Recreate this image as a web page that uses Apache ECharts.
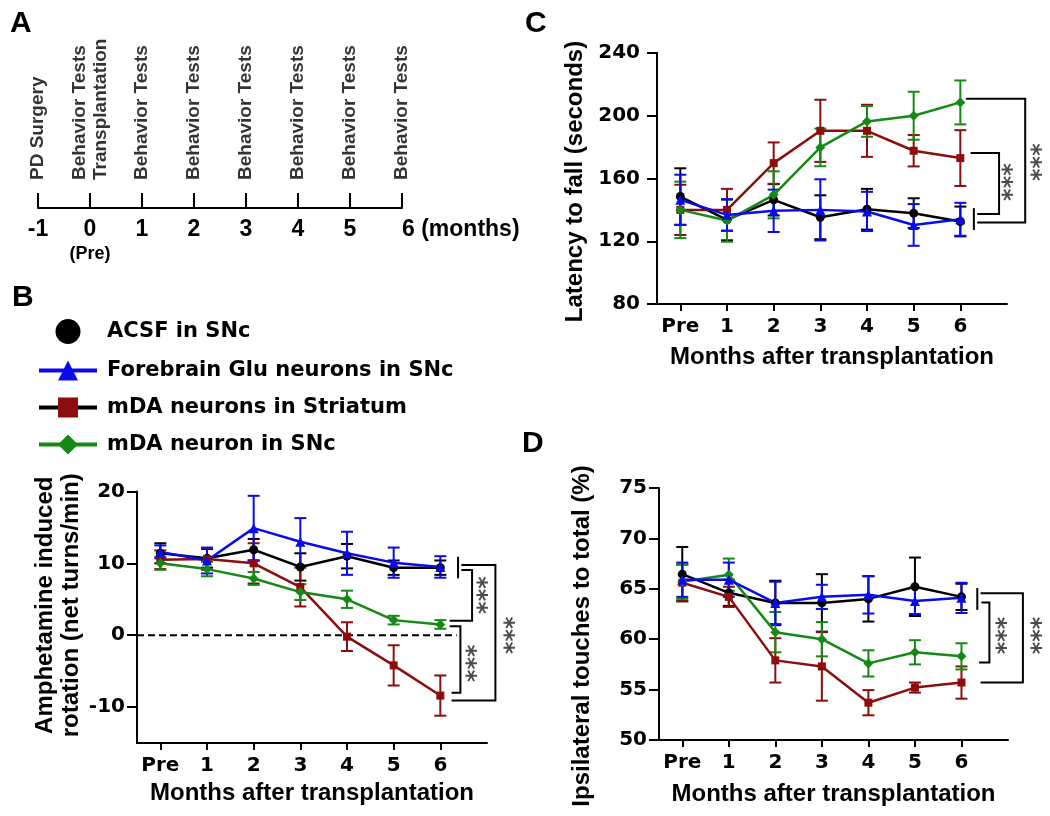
<!DOCTYPE html>
<html><head><meta charset="utf-8">
<script src="https://cdn.jsdelivr.net/npm/echarts@6/dist/echarts.min.js"></script>
<style>html,body{margin:0;padding:0;background:#fff}#c{width:1050px;height:816px}</style>
</head><body><div id="c"></div>
<script>
// ---------- DATA ----------
const months = ['Pre','1','2','3','4','5','6'];
const timelineMonths = [-1,0,1,2,3,4,5,6];
const timelineEvents = ['PD Surgery','Behavior Tests\nTransplantation','Behavior Tests','Behavior Tests','Behavior Tests','Behavior Tests','Behavior Tests','Behavior Tests'];
const groupNames = ['ACSF in SNc','Forebrain Glu neurons in SNc','mDA neurons in Striatum','mDA neuron in SNc'];

// B: amphetamine induced rotation (net turns/min)
const rotAcsf    = [11.4, 10.7, 11.9, 9.5, 11.0, 9.4, 9.4];
const rotAcsfSem = [1.4, 1.3, 1.5, 1.9, 1.7, 1.0, 1.0];
const rotGlu     = [11.6, 10.4, 14.9, 13.0, 11.4, 10.1, 9.5];
const rotGluSem  = [0.9, 1.8, 4.5, 3.3, 3.0, 2.1, 1.5];
const rotStr     = [10.5, 10.6, 10.0, 6.7, -0.2, -4.2, -8.4];
const rotStrSem  = [1.3, 1.5, 2.8, 2.7, 2.0, 2.8, 2.8];
const rotSnc     = [10.0, 9.2, 7.9, 6.0, 5.0, 2.1, 1.5];
const rotSncSem  = [0.9, 1.0, 0.9, 1.1, 1.2, 0.6, 0.6];
const rotTicks   = [-10, 0, 10, 20];

// C: latency to fall (seconds)
const latAcsf    = [148.5, 133.6, 146.4, 135.3, 140.4, 137.9, 132.6];
const latAcsfSem = [18, 13, 10, 14, 13, 9.5, 9.5];
const latGlu     = [146.4, 136.8, 139.4, 140.0, 139.0, 130.4, 134.0];
const latGluSem  = [16, 10, 13.5, 19.5, 12.5, 13.3, 10.5];
const latStr     = [140, 140, 169.8, 190.4, 190.4, 177.7, 173.0];
const latStrSem  = [16, 13.4, 13.2, 19.8, 16.6, 10, 17.8];
const latSnc     = [140, 133.2, 149.6, 179.8, 196.4, 200.0, 208.5];
const latSncSem  = [18, 13.5, 15, 12, 9.8, 15.3, 14];
const latTicks   = [80, 120, 160, 200, 240];

// D: ipsilateral touches to total (%)
const touAcsf    = [66.45, 64.6, 63.6, 63.6, 64.0, 65.2, 64.2];
const touAcsfSem = [2.7, 1.3, 2.2, 2.85, 2.25, 2.9, 1.3];
const touGlu     = [65.9, 65.9, 63.6, 64.2, 64.4, 63.8, 64.1];
const touGluSem  = [1.7, 1.7, 2.1, 1.2, 1.85, 1.3, 1.5];
const touStr     = [65.6, 64.2, 57.9, 57.3, 53.7, 55.2, 55.7];
const touStrSem  = [1.8, 1.0, 2.2, 3.4, 1.25, 0.5, 1.6];
const touSnc     = [65.7, 66.4, 60.7, 60.0, 57.6, 58.7, 58.3];
const touSncSem  = [1.7, 1.6, 2.0, 1.7, 1.3, 1.2, 1.3];
const touTicks   = [50, 55, 60, 65, 70, 75];

// ---------- ANNOTATIONS (significance brackets, in data space) ----------
const bracketsB = [
  [[6.38,10.92],[6.38,7.91]],
  [[6.45,9.07],[6.68,9.07],[6.68,2.0],[6.20,2.0]],
  [[6.45,9.76],[7.18,9.76],[7.18,-9.07],[6.24,-9.07]],
  [[6.20,1.26],[6.43,1.26],[6.43,-7.99],[6.24,-7.99]]
];
const starsB = [[6.77,5.58],[7.34,0],[6.53,-3.9]];
const bracketsC = [
  [[6.29,141.1],[6.29,127.2]],
  [[6.22,176.2],[6.83,176.2],[6.83,137.3],[6.36,137.3]],
  [[6.12,210.8],[7.39,210.8],[7.39,131.9],[6.36,131.9]]
];
const starsC = [[6.88,157.7],[7.49,170.4]];
const bracketsD = [
  [[6.34,65.07],[6.34,62.91]],
  [[6.43,63.64],[6.60,63.64],[6.60,57.68],[6.38,57.68]],
  [[6.41,64.57],[7.32,64.57],[7.32,55.70],[6.41,55.70]]
];
const starsD = [[6.72,60.36],[7.47,60.36]];

// ---------- STYLE ----------
const ARIAL = "'Liberation Sans', Arial, sans-serif";
const DEJA = "'DejaVu Sans', sans-serif";
const groupStyle = [
  {color:'#000000', symbol:'circle',   size:9},
  {color:'#0a0aee', symbol:'triangle', size:10},
  {color:'#8b0d0d', symbol:'rect',     size:8},
  {color:'#148a14', symbol:'diamond',  size:10}
];
const drawOrder = [0, 2, 3, 1];
const monthPos = months.map((m, i) => i);

const panels = [
  {axis:1, means:[rotAcsf, rotGlu, rotStr, rotSnc], sems:[rotAcsfSem, rotGluSem, rotStrSem, rotSncSem], brackets:bracketsB, stars:starsB},
  {axis:2, means:[latAcsf, latGlu, latStr, latSnc], sems:[latAcsfSem, latGluSem, latStrSem, latSncSem], brackets:bracketsC, stars:starsC},
  {axis:3, means:[touAcsf, touGlu, touStr, touSnc], sems:[touAcsfSem, touGluSem, touStrSem, touSncSem], brackets:bracketsD, stars:starsD}
];

function plotX(gridIndex, nameGap) {
  return {
    type:'value', gridIndex, min:-0.5, max:7,
    axisLine:{show:true, onZero:false, lineStyle:{color:'#000', width:2}},
    axisTick:{show:true, customValues:monthPos, length:7, lineStyle:{color:'#000', width:2}},
    axisLabel:{customValues:monthPos, formatter:v => months[v], margin:13, color:'#000',
      fontFamily:DEJA, fontWeight:'bold', fontSize:20},
    splitLine:{show:false},
    name:'Months after transplantation', nameLocation:'middle', nameGap,
    nameTextStyle:{color:'#000', fontFamily:ARIAL, fontWeight:'bold', fontSize:24}
  };
}
function plotY(gridIndex, min, max, ticks, name, nameGap, pad, margin) {
  return {
    type:'value', gridIndex, min, max,
    axisLine:{show:true, onZero:false, lineStyle:{color:'#000', width:2}},
    axisTick:{show:true, customValues:ticks, length:10, lineStyle:{color:'#000', width:2}},
    axisLabel:{customValues:ticks, margin, color:'#000', fontFamily:DEJA, fontWeight:'bold', fontSize:20},
    splitLine:{show:false},
    name, nameLocation:'middle', nameRotate:90, nameGap,
    nameTextStyle:{color:'#000', fontFamily:ARIAL, fontWeight:'bold', fontSize:24, lineHeight:26, padding:pad}
  };
}

function errRender(color) {
  return function (params, api) {
    const x = api.value(0), lo = api.value(1), hi = api.value(2);
    const a = api.coord([x, lo]), b = api.coord([x, hi]);
    const w = 6, st = {stroke:color, lineWidth:2};
    return {type:'group', children:[
      {type:'line', shape:{x1:a[0], y1:a[1], x2:b[0], y2:b[1]}, style:st},
      {type:'line', shape:{x1:b[0]-w, y1:b[1], x2:b[0]+w, y2:b[1]}, style:st},
      {type:'line', shape:{x1:a[0]-w, y1:a[1], x2:a[0]+w, y2:a[1]}, style:st}
    ]};
  };
}
function bracketSeries(axis, pts) {
  return {
    type:'custom', xAxisIndex:axis, yAxisIndex:axis, silent:true, z:4, clip:false,
    data:pts, encode:{x:0, y:1},
    renderItem:(params, api) => params.dataIndex === 0 ? {
      type:'polyline', shape:{points:pts.map(p => api.coord(p))},
      style:{stroke:'#000', lineWidth:2, fill:null}
    } : null
  };
}

const series = [];
// timeline event labels (panel A)
series.push({
  type:'scatter', xAxisIndex:0, yAxisIndex:0, symbolSize:0, silent:true, clip:false,
  data: timelineMonths.map(m => [m, 0]),
  label:{show:true, position:'top', distance:28, rotate:90, align:'left', verticalAlign:'middle',
    formatter:p => timelineEvents[p.dataIndex], color:'#000', fontFamily:ARIAL, fontWeight:'bold',
    fontSize:19, lineHeight:21}
});

panels.forEach(p => {
  drawOrder.forEach(g => {
    const st = groupStyle[g];
    series.push({
      type:'custom', name:groupNames[g] + ' SEM', xAxisIndex:p.axis, yAxisIndex:p.axis, z:2, silent:true,
      renderItem: errRender(st.color), encode:{x:0, y:[1,2]},
      data: months.map((m, i) => [i, p.means[g][i] - p.sems[g][i], p.means[g][i] + p.sems[g][i]])
    });
  });
  drawOrder.forEach(g => {
    const st = groupStyle[g];
    series.push({
      type:'line', name:groupNames[g], xAxisIndex:p.axis, yAxisIndex:p.axis, z:3,
      symbol:st.symbol, symbolSize:st.size, showSymbol:true,
      lineStyle:{color:st.color, width:2.5}, itemStyle:{color:st.color},
      data: months.map((m, i) => [i, p.means[g][i]])
    });
  });
  p.brackets.forEach(b => series.push(bracketSeries(p.axis, b)));
  series.push({
    type:'scatter', xAxisIndex:p.axis, yAxisIndex:p.axis, data:p.stars, symbolSize:0, clip:false, silent:true, z:4,
    label:{show:true, position:'inside', formatter:'***', rotate:-90, color:'#1e1e1e',
      fontFamily:DEJA, fontWeight:'bold', fontSize:24, align:'center', verticalAlign:'middle'}
  });
});
// zero reference line in B
series.push({
  type:'line', xAxisIndex:1, yAxisIndex:1, symbol:'none', silent:true, z:1,
  data:[[-0.5, 0], [6.35, 0]], lineStyle:{color:'#000', width:2, type:[7,4]}
});

const option = {
  animation:false,
  backgroundColor:'#fff',
  title:[
    {text:'A', left:10, top:9, padding:0, textStyle:{fontFamily:ARIAL, fontWeight:'bold', fontSize:30, color:'#000'}},
    {text:'B', left:12, top:283, padding:0, textStyle:{fontFamily:ARIAL, fontWeight:'bold', fontSize:30, color:'#000'}},
    {text:'C', left:525, top:9, padding:0, textStyle:{fontFamily:ARIAL, fontWeight:'bold', fontSize:30, color:'#000'}},
    {text:'D', left:522, top:429, padding:0, textStyle:{fontFamily:ARIAL, fontWeight:'bold', fontSize:30, color:'#000'}}
  ],
  legend:{
    orient:'vertical', left:32, top:314, itemWidth:58, itemHeight:25, itemGap:16, selectedMode:false,
    data:[
      {name:groupNames[0], icon:'circle'},
      {name:groupNames[1]},
      {name:groupNames[2], lineStyle:{color:'#000'}},
      {name:groupNames[3]}
    ],
    lineStyle:{width:4},
    textStyle:{fontFamily:DEJA, fontWeight:'bold', fontSize:21, color:'#000', padding:[0,0,0,5]}
  },
  grid:[
    {left:38, top:100, width:364, height:108, outerBoundsMode:'none'},
    {left:137, top:491.5, width:350, height:251.5, outerBoundsMode:'none'},
    {left:657, top:53, width:350, height:251, outerBoundsMode:'none'},
    {left:659, top:488, width:349, height:252, outerBoundsMode:'none'}
  ],
  xAxis:[
    {type:'value', gridIndex:0, min:-1, max:6, interval:1,
      axisLine:{show:true, onZero:false, lineStyle:{color:'#000', width:2}},
      axisTick:{show:true, inside:true, length:15, lineStyle:{color:'#000', width:2}},
      axisLabel:{margin:9, color:'#000', fontFamily:ARIAL, fontWeight:'bold', fontSize:23, lineHeight:26,
        alignMaxLabel:'left', alignMinLabel:'center',
        formatter:v => v === 0 ? '0\n{pre|(Pre)}' : (v === 6 ? '6 (months)' : String(v)),
        rich:{pre:{fontFamily:ARIAL, fontWeight:'bold', fontSize:18, color:'#000', lineHeight:22}}},
      splitLine:{show:false}},
    plotX(1, 38), plotX(2, 41), plotX(3, 42)
  ],
  yAxis:[
    {type:'value', gridIndex:0, min:0, max:1, show:false},
    plotY(1, -15, 20, rotTicks, 'Amphetamine induced\nrotation (net turns/min)', 53, [0,0,0,24], 12),
    plotY(2, 80, 240, latTicks, 'Latency to fall (seconds)', 69, [0,6,0,0], 17),
    plotY(3, 50, 75, touTicks, 'Ipsilateral touches to total (%)', 64, [0,44,0,0], 12)
  ],
  series
};
const chart = echarts.init(document.getElementById('c'), null, {renderer:'canvas'});
chart.setOption(option);
</script>
</body></html>
